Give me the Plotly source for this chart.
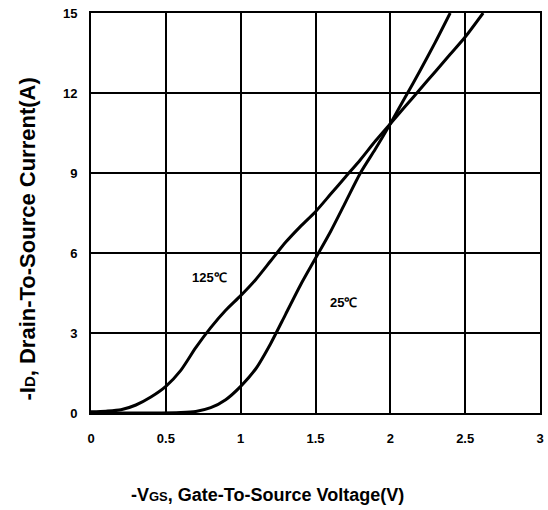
import plotly.graph_objects as go

vgs_125 = [0, 0.1, 0.2, 0.3, 0.4, 0.5, 0.6, 0.7, 0.8, 0.9, 1.0, 1.1, 1.2, 1.3, 1.4, 1.5, 1.6, 1.7, 1.8, 1.9, 2.0, 2.1, 2.2, 2.3, 2.4, 2.5, 2.62]
id_125 = [0.05, 0.07, 0.12, 0.3, 0.6, 1.0, 1.6, 2.45, 3.2, 3.85, 4.4, 5.0, 5.7, 6.4, 7.0, 7.55, 8.2, 8.85, 9.5, 10.2, 10.85, 11.5, 12.15, 12.8, 13.45, 14.1, 15.0]

vgs_25 = [0, 0.2, 0.4, 0.6, 0.7, 0.8, 0.9, 1.0, 1.1, 1.2, 1.3, 1.4, 1.5, 1.6, 1.7, 1.8, 1.9, 2.0, 2.1, 2.2, 2.3, 2.4]
id_25 = [0.0, 0.0, 0.0, 0.02, 0.06, 0.2, 0.5, 1.0, 1.65, 2.6, 3.7, 4.8, 5.8, 6.8, 7.9, 9.0, 9.9, 10.85, 11.85, 12.85, 13.9, 15.0]

x_ticks = [0, 0.5, 1, 1.5, 2, 2.5, 3]
x_tick_text = ["0", "0.5", "1", "1.5", "2", "2.5", "3"]
y_ticks = [0, 3, 6, 9, 12, 15]
y_tick_text = ["0", "3", "6", "9", "12", "15"]

labels = ["125℃", "25℃"]
label_x = [0.795, 1.69]
label_y = [5.1, 4.16]

x_title = "-V<span style='font-size:13px'>GS</span>, Gate-To-Source Voltage(V)"
y_title = "-I<span style='font-size:15px'>D</span>, Drain-To-Source Current(A)"

FAM = "Liberation Sans"

fig = go.Figure()
fig.add_trace(go.Scatter(x=vgs_125, y=id_125, mode="lines", line=dict(color="black", width=3, shape="spline", smoothing=0.7), showlegend=False))
fig.add_trace(go.Scatter(x=vgs_25, y=id_25, mode="lines", line=dict(color="black", width=3, shape="spline", smoothing=0.7), showlegend=False))

for t, x, y in zip(labels, label_x, label_y):
    fig.add_annotation(x=x, y=y, text=t, showarrow=False, font=dict(family=FAM, size=13, color="black", weight="bold"))

fig.add_annotation(xref="paper", yref="paper", x=0.392, y=-0.205, text=x_title, showarrow=False,
                   xanchor="center", yanchor="middle",
                   font=dict(family=FAM, size=18, color="black", weight="bold"))
fig.add_annotation(xref="paper", yref="paper", x=-0.1413, y=0.435, text=y_title, showarrow=False,
                   textangle=-90, xanchor="center", yanchor="middle",
                   font=dict(family=FAM, size=22, color="black", weight="bold"))

tickfont = dict(family=FAM, size=13, color="black", weight="bold")
fig.update_layout(
    width=548, height=510,
    margin=dict(l=91, r=4, t=13, b=97),
    paper_bgcolor="white", plot_bgcolor="white",
    font=dict(family=FAM, color="black"),
    xaxis=dict(range=[0, 3], tickvals=x_ticks, ticktext=x_tick_text, showgrid=True, gridcolor="black", gridwidth=1.5,
               showline=True, linecolor="black", linewidth=2, mirror=True, zeroline=False, ticks="",
               ticklabelstandoff=12, tickfont=tickfont),
    yaxis=dict(range=[0, 15], tickvals=y_ticks, ticktext=y_tick_text, showgrid=True, gridcolor="black", gridwidth=1.5,
               showline=True, linecolor="black", linewidth=2, mirror=True, zeroline=False, ticks="",
               ticklabelstandoff=9, tickfont=tickfont),
)
fig.write_html("out.html")
